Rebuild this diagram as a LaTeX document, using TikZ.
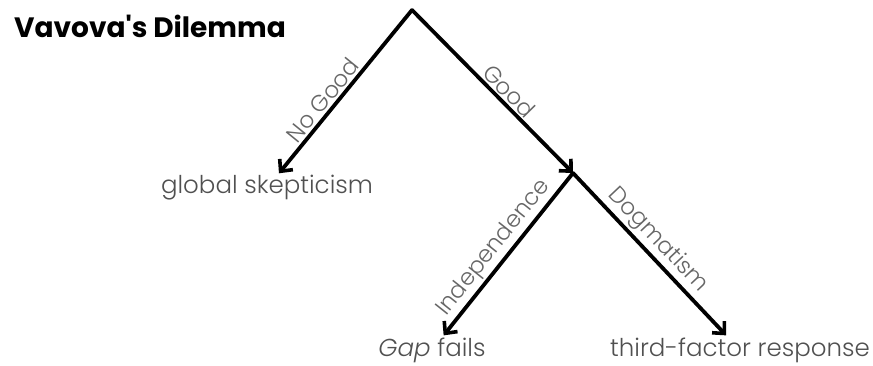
\documentclass[tikz,border=0pt]{standalone}
\usepackage{fontspec}
\setmainfont{Poppins}[UprightFont=* Light, BoldFont=* Bold, ItalicFont=* Light Italic]
\usetikzlibrary{arrows.meta}
\definecolor{txtgray}{HTML}{505050}
\definecolor{lblgray}{HTML}{666666}
\tikzset{
  leaf/.style={text=txtgray, font=\fontsize{24.5}{28}\selectfont, inner sep=2pt},
  branch/.style={-{Straight Barb[length=9pt,width=17pt,line width=3.6pt]}, line width=3.8pt, line cap=round},
  edgelbl/.style={sloped, above, text=lblgray, font=\fontsize{23}{26}\selectfont, inner sep=2pt}
}
\begin{document}
\begin{tikzpicture}[x=1pt, y=1pt]
    % 范围
    \useasboundingbox (0,0) rectangle (873,-365);

    % 标题
    \node[font=\bfseries\fontsize{28}{32}\selectfont] (title) at (150,-26) {Vavova\textquotesingle s Dilemma};

    % 分叉点
    \coordinate (top) at (412,-10);
    \coordinate (mid) at (573,-173);

    % 结论
    \node[leaf] (skep) at (267,-188) {global skepticism};
    \node[leaf] (gap) at (432,-350) {\textit{Gap} fails};
    \node[leaf] (third) at (740,-350) {third-factor response};

    % 连线
    \draw[branch] (top) -- (skep) node[edgelbl, pos=0.6] {No Good};
    \draw[branch] (top) -- (mid) node[edgelbl, pos=0.55] {Good};
    \draw[branch] (mid) -- (gap) node[edgelbl, pos=0.52] {Independence};
    \draw[branch] (mid) -- (third) node[edgelbl, pos=0.48] {Dogmatism};
\end{tikzpicture}
\end{document}
